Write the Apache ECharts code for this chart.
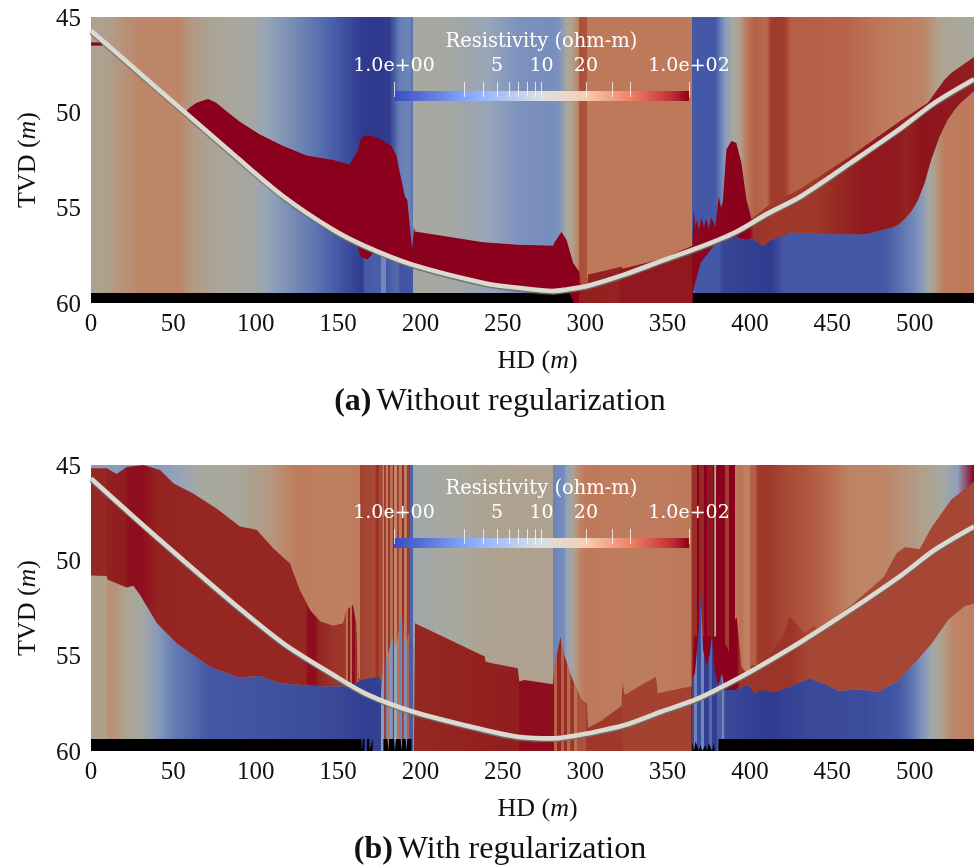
<!DOCTYPE html>
<html>
<head>
<meta charset="utf-8">
<script src="https://cdn.jsdelivr.net/npm/echarts@6/dist/echarts.min.js"></script>
<style>html,body{margin:0;padding:0;background:#fff}#c{width:974px;height:867px}</style>
</head>
<body>
<div id="c"></div>
<script>
// ---------- axis and legend values ----------
const tvdMin = 45, tvdMax = 60, hdMin = 0, hdMax = 536;
const barLabelValues = [1, 5, 10, 20, 100];
const barLabelTexts = ['1.0e+00', '5', '10', '20', '1.0e+02'];
const barTickValues = [1, 3, 4, 5, 6, 7, 8, 9, 10, 20, 30, 40, 100];

// ---------- panel (a) without regularization ----------
const aTrackHd  = [0, 25.7, 57, 86.4, 116.7, 147, 167, 195.6, 239, 259, 280.5, 287.6, 301.8, 324, 346, 368.6, 390.8, 411, 431, 461, 492, 512, 536];
const aTrackTvd = [45.72, 47.65, 50, 52.2, 54.4, 56.16, 57.04, 58, 58.96, 59.2, 59.37, 59.3, 59.09, 58.5, 57.8, 57.1, 56.3, 55.3, 54.4, 52.65, 50.8, 49.5, 48.26];

const aBackHd  = [0, 9.5, 20, 30, 54, 61, 74, 98, 107, 137, 147, 165, 181, 187, 193, 195.5, 195.6, 220, 242, 260, 280, 284, 289, 292, 296, 296.1, 301, 301.1, 364.5, 364.6, 365, 365.1, 379, 382, 385, 390, 394, 397, 403, 410, 413, 421, 425, 457, 480, 505, 514, 520, 536];
const aBackRho = [8, 9, 11, 13.5, 13.5, 10, 7, 5.5, 4, 2, 1.6, 1.05, 1.05, 2.2, 2.5, 2, 6, 5.5, 4, 3, 2.8, 3, 6, 9, 16, 35, 35, 20, 20, 6, 6, 1.5, 1.5, 2.2, 3.5, 6, 8, 16, 30, 25, 45, 45, 30, 28, 20, 14, 9, 7, 6];

const aSliverHd   = [0, 7];
const aSliverTop  = [46.33, 46.33];
const aSliverBot  = [46.5, 46.5];

const aMidTopHd  = [57, 60, 64, 71, 76, 83, 90.4, 102.5, 116.7, 130.9, 147, 157, 162, 164, 167, 173, 182.5, 185.5, 187.5, 190.5, 192, 195, 196, 196.6, 217.8, 238, 259, 280.5, 281.5, 285.6, 288.7, 292.7, 296.7, 297.5, 301, 301.8, 322, 322.5, 346, 365, 365.8, 367, 368, 369, 370.5, 372, 373.5, 375, 376.5, 379, 381, 382.5, 383.5, 385.7, 388.7, 391.7, 394.8, 397.9, 401, 411, 431, 461, 492, 508, 513, 518, 522, 536];
const aMidTopTvd = [50, 49.75, 49.5, 49.3, 49.5, 50, 50.5, 51.16, 51.77, 52.26, 52.5, 52.74, 52, 51.33, 51.2, 51.3, 51.77, 52.3, 53.18, 54.4, 54.6, 57.2, 56, 56.25, 56.54, 56.82, 56.95, 57, 56.8, 56.28, 56.7, 57.9, 58.4, 59.3, 59.3, 58.5, 58.1, 58.2, 57.7, 57, 55.1, 56, 55.6, 56.2, 55.5, 56, 55.6, 56.1, 55.5, 56, 54.4, 55, 54.7, 51.95, 51.5, 51.6, 52.65, 54.6, 55.6, 54.9, 54, 52.3, 50.4, 49.5, 48.9, 48.3, 47.95, 47.1];
const aMidBotHd  = [57, 86.4, 116.7, 147, 160, 162, 164, 168, 171, 175, 195.6, 242, 259, 280.5, 290, 293, 365, 365.5, 368, 370, 378, 390, 397, 401, 408, 413, 425, 449.5, 470, 486, 490, 494, 498, 502, 506, 510, 515, 520, 524, 528, 532, 536];
const aMidBotTvd = [50, 52.2, 54.4, 56.16, 56.8, 57.1, 57.6, 57.7, 57.4, 57.3, 58, 59.15, 59.2, 59.37, 59.4, 60, 60, 59.4, 58.55, 57.9, 57, 56.5, 56.7, 56.6, 57, 56.7, 56.3, 56.4, 56.4, 56.05, 55.9, 55.6, 55.2, 54.6, 53.7, 52.5, 51.3, 50.4, 49.9, 49.5, 49.2, 48.9];
const aMidHd  = [0, 296, 296.1, 320, 322, 365, 365.1, 400, 402, 413, 440, 455, 470, 487, 495, 505, 536];
const aMidRho = [100, 100, 70, 65, 75, 75, 92, 100, 50, 48, 48, 60, 75, 75, 65, 80, 70];

const aLowLeftHd  = [165, 166, 172, 176, 176.1, 179, 179.1, 186, 188, 195.5];
const aLowLeftRho = [1.05, 1.5, 1.6, 1.6, 2.6, 2.6, 1.5, 1.8, 1.4, 1.5];
const aLowRightHd  = [365, 367, 381, 383.7, 413, 421, 482, 492, 502, 508, 511, 518, 536];
const aLowRightRho = [2.5, 1.5, 1.5, 1.2, 1.05, 1.5, 1.5, 2, 3, 5, 8, 18, 20];

const aBlackHd = [[0, 293.5], [365, 536]];
const aBlackTop = 59.47;

// ---------- panel (b) with regularization ----------
const bTrackHd  = [0, 25.7, 56, 86.4, 116.7, 147, 167, 195.6, 239, 259, 280.5, 287.6, 301.8, 324, 346, 368.6, 390.8, 411, 431, 461, 492, 512, 536];
const bTrackTvd = [45.7, 47.7, 50, 52.25, 54.35, 56, 57, 57.94, 58.9, 59.25, 59.34, 59.28, 59.07, 58.64, 57.94, 57.24, 56.28, 55.3, 54.27, 52.6, 50.77, 49.46, 48.23];

const bBackHd = [
  0, 20, 42, 55, 66, 90, 108, 118, 125, 156, 160, 163,
  163.1, 172, 174, 175, 176.9,
  177, 178, 178.1, 179.2, 179.3, 180, 180.1, 181.5, 181.6, 183, 183.1, 184, 184.1, 185.5, 185.6, 187, 187.1, 188.5, 188.6, 190, 190.1, 191.5, 191.6, 193.4,
  193.5, 195.6,
  195.7, 220, 242, 260, 280.5,
  280.6, 287, 289, 293, 297, 301, 322, 342, 364,
  365, 368, 368.1, 369, 369.1, 372, 372.1, 374, 374.1, 377.6, 377.7, 378.4, 378.5, 379.6, 379.7, 385, 385.1, 387, 387.1, 391,
  391.1, 396, 396.1, 400, 400.1, 403, 405, 405.1, 411, 423, 433, 447, 461, 480, 505, 516, 526, 536];
const bBackRho = [
  3.5, 3.5, 3.5, 4, 6, 6.5, 10, 13, 18, 16, 18, 18,
  42, 38, 60, 38, 42,
  15, 15, 45, 45, 16, 16, 50, 50, 22, 22, 60, 60, 13, 13, 42, 42, 20, 20, 55, 55, 16, 16, 45, 45,
  1.7, 1.7,
  5, 6, 8, 8.5, 8.5,
  2.4, 2.8, 4, 8, 14, 20, 18, 18, 20,
  55, 55, 100, 100, 60, 60, 100, 100, 75, 75, 100, 100, 6, 6, 100, 100, 45, 45, 100, 100,
  20, 22, 16, 16, 30, 30, 48, 48, 48, 38, 34, 26, 14, 14, 9, 6, 3.7];

const bMidTopHd  = [0, 9.5, 15.6, 21.6, 31.8, 41.9, 50, 62, 76, 90.4, 100.5, 110.6, 120.8, 126.8, 133, 139, 147, 153, 155, 159, 161, 162.5, 164, 175, 175.5, 196, 196.6, 218, 239, 239.5, 242, 259, 260, 263, 280.5, 281.5, 285, 287.6, 291.7, 297.8, 301, 301.8, 310, 322, 322.6, 324, 334, 343, 344, 364.4, 365, 366, 380, 386, 388, 391, 392, 394.8, 399, 401, 410, 415, 420, 424, 428, 433, 439, 441, 450, 461, 481, 489, 494, 503, 510, 522, 536];
const bMidTopTvd = [45.17, 45.17, 45.47, 45.1, 45, 45.26, 45.96, 46.5, 47.27, 48.23, 48.4, 49.37, 50.16, 51.56, 52.6, 53.2, 53.43, 53.3, 52.6, 52.34, 53.3, 56.2, 56.27, 56.1, 60, 60, 53.3, 54.18, 55.05, 55.3, 55.37, 55.66, 56.36, 56.27, 56.5, 55.4, 54.04, 55.05, 56.1, 57.3, 57.5, 58.8, 58.4, 57.64, 56.45, 57.06, 56.54, 56.1, 56.97, 56.6, 56.6, 54, 54, 54.5, 55, 53.1, 53, 55.6, 56, 55.5, 55.5, 54.5, 54, 52.95, 53.3, 53.83, 53.4, 53.65, 53.1, 52.4, 50.9, 49.63, 49.32, 49.4, 48.3, 46.83, 45.87];
const bMidBotHd  = [0, 9.5, 10, 21.6, 25.7, 29.7, 40, 52, 72, 89.4, 102.5, 114.7, 139, 157, 164, 175, 175.5, 365, 365.2, 383, 391, 399, 403, 407, 415, 425, 436, 447, 453.5, 468, 478, 490, 502, 510.5, 520.5, 530.5, 536];
const bMidBotTvd = [50.8, 50.82, 51, 51.42, 51.33, 51.8, 53.3, 54.35, 55.58, 56.14, 56.07, 56.45, 56.6, 56.6, 56.27, 56.1, 60, 60, 57, 56.8, 56.8, 56.5, 57, 56.8, 56.9, 56.6, 56.2, 56.54, 56.84, 56.77, 56.9, 56.3, 55.2, 54.35, 53.1, 52.4, 52.25];
const bMidHd  = [0, 9, 10, 20, 24, 31, 40, 72, 90, 130, 132, 136, 138, 147, 153, 155, 155.1, 156, 156.1, 157, 157.1, 158.5, 158.6, 160, 160.1, 161.5, 161.6, 163, 196, 239, 260, 260.1, 280, 281, 281.1, 283, 283.1, 285, 285.1, 287, 287.1, 289, 289.1, 291, 291.1, 293, 293.1, 295, 295.1, 300, 301, 322, 323, 364, 365, 392, 394, 413, 425, 435, 536];
const bMidRho = [60, 60, 68, 70, 85, 85, 65, 60, 62, 62, 85, 85, 65, 50, 50, 40, 22, 22, 70, 70, 25, 25, 85, 85, 55, 55, 22, 60, 60, 68, 70, 85, 85, 90, 28, 28, 60, 60, 30, 30, 55, 55, 25, 25, 50, 50, 22, 22, 35, 35, 48, 48, 42, 42, 100, 100, 50, 50, 50, 40, 40];

const bLowTopHd  = [0, 9.5, 10, 21.6, 25.7, 29.7, 40, 52, 72, 89.4, 102.5, 114.7, 139, 157, 164, 175, 176];
const bLowTopTvd = [50.8, 50.82, 51, 51.42, 51.33, 51.8, 53.3, 54.35, 55.58, 56.14, 56.07, 56.45, 56.6, 56.6, 56.27, 56.1, 56.4];
const bLowHd  = [0, 9, 10, 15, 20, 30, 40, 50, 72, 107, 147, 164, 176];
const bLowRho = [9, 9, 11, 11, 8, 6, 3.5, 2.2, 1.5, 1.4, 1.25, 1.1, 1.1];

const bNoiseHd  = [176, 176.1, 178, 178.1, 179, 179.1, 180.5, 180.6, 181.5, 181.6, 183, 183.1, 184, 184.1, 185.5, 185.6, 187, 187.1, 188.5, 188.6, 190, 190.1, 191.5, 191.6, 193, 193.1, 195.6];
const bNoiseRho = [1.1, 3.5, 3.5, 45, 45, 2.5, 2.5, 18, 18, 3.2, 3.2, 50, 50, 4, 4, 22, 22, 2.5, 2.5, 40, 40, 3, 3, 28, 28, 1.6, 1.6];
const bNoiseTopHd  = [176, 177.4, 180, 183, 185, 188.5, 191, 193, 195.6];
const bNoiseTopTvd = [57, 55.5, 55, 54, 54.6, 52.8, 54.5, 53.8, 54.5];

const bRightLowTopHd  = [365, 366.6, 368.6, 370, 371.6, 373.6, 375.5, 377, 378.6, 380.7, 383, 383.8, 385];
const bRightLowTopTvd = [56.3, 55.9, 54, 51.7, 54.7, 55.5, 55, 53.9, 55.8, 56.6, 55.9, 56.3, 57];
const bRightLowHd  = [365, 366, 366.1, 368, 368.1, 370, 370.1, 372, 372.1, 375, 375.1, 377, 377.1, 380, 380.1, 383, 383.1, 385];
const bRightLowRho = [1.3, 1.3, 2.4, 2.4, 1.3, 1.3, 2.6, 2.6, 1.1, 1.1, 1.8, 1.8, 1.1, 1.1, 1.6, 1.6, 3.4, 1.3];
const bLowRightTopHd  = [383, 391, 399, 403, 407, 415, 425, 436, 447, 453.5, 468, 478, 490, 502, 510.5, 520.5, 530.5, 536];
const bLowRightTopTvd = [56.8, 56.8, 56.5, 57, 56.8, 56.9, 56.6, 56.2, 56.54, 56.84, 56.77, 56.9, 56.3, 55.2, 54.35, 53.1, 52.4, 52.25];
const bLowRightHd  = [383, 413, 436, 470, 490, 498, 504, 510, 516, 524, 536];
const bLowRightRho = [1.25, 1.05, 1.25, 1.3, 1.5, 2, 3, 5, 8, 14, 16];

const bBlackLeftHd  = [0, 164, 164.5, 165, 166, 166.1, 167.5, 167.6, 169, 169.1, 171];
const bBlackLeftTvd = [59.37, 59.37, 60, 59.37, 59.37, 60, 60, 59.37, 59.37, 60, 59.37];
const bBlackMidHd  = [177.5, 180, 180.5, 181, 184, 184.5, 185, 188, 188.5, 189, 191, 191.5, 192, 194.6];
const bBlackMidTvd = [59.37, 59.37, 60, 59.37, 59.37, 60, 59.37, 59.37, 60, 59.37, 59.37, 60, 59.37, 59.37];
const bBlackRightHd  = [365, 366, 367, 369, 370, 371, 373, 374, 375, 377, 378, 379, 380.8, 380.9, 536];
const bBlackRightTvd = [59.5, 60, 59.5, 60, 59.7, 60, 59.7, 60, 59.6, 60, 59.6, 60, 60, 59.37, 59.37];

// ---------- colour helpers ----------
const rhoStops = [[1, [45, 55, 140]], [1.5, [68, 88, 165]], [2.2, [100, 125, 180]], [3, [125, 145, 190]], [4, [150, 165, 185]], [6, [168, 168, 158]], [9, [175, 160, 140]], [13, [190, 135, 105]], [20, [190, 120, 90]], [30, [180, 95, 70]], [45, [160, 60, 45]], [70, [145, 30, 30]], [100, [139, 0, 28]]];
function rhoColor(r) {
  for (let i = 1; i < rhoStops.length; i++) {
    if (r <= rhoStops[i][0]) {
      const a = rhoStops[i - 1], b = rhoStops[i];
      const t = Math.max(0, (Math.log(r) - Math.log(a[0])) / (Math.log(b[0]) - Math.log(a[0])));
      return 'rgb(' + a[1].map((v, k) => Math.round(v + (b[1][k] - v) * t)).join(',') + ')';
    }
  }
  return 'rgb(139,0,28)';
}

// one filled region bounded by a top and a bottom curve; fill varies along HD
function region(grid, topHd, topTvd, botHd, botTvd, stopHd, stopRho, flat) {
  const pts = [];
  topHd.forEach((h, i) => pts.push([h, topTvd[i]]));
  for (let i = botHd.length - 1; i >= 0; i--) pts.push([botHd[i], botTvd[i]]);
  return {
    type: 'custom', xAxisIndex: grid, yAxisIndex: grid, silent: true, clip: true, z: 2,
    coordinateSystem: 'cartesian2d', animation: false, data: pts,
    encode: { x: 0, y: 1 },
    renderItem(params, api) {
      if (params.dataIndex !== 0) return null;
      const points = pts.map(p => api.coord(p));
      let fill = flat;
      if (!flat) {
        const h0 = stopHd[0], h1 = stopHd[stopHd.length - 1];
        const x0 = api.coord([h0, tvdMin])[0], x1 = api.coord([h1, tvdMin])[0];
        fill = new echarts.graphic.LinearGradient(x0, 0, x1, 0,
          stopHd.map((h, i) => ({ offset: (h - h0) / (h1 - h0), color: rhoColor(stopRho[i]) })), true);
      }
      return { type: 'polygon', shape: { points }, style: { fill } };
    }
  };
}
const span = (a, b) => [a, b];
const flatAt = (v) => [v, v];

function track(grid, hd, tvd) {
  return {
    type: 'line', xAxisIndex: grid, yAxisIndex: grid, z: 3, silent: true, animation: false,
    showSymbol: false, smooth: 0.3, clip: true,
    data: hd.map((h, i) => [h, tvd[i]]),
    lineStyle: { color: '#dcd9d1', width: 4.6, cap: 'butt', shadowColor: '#6f6f6a', shadowBlur: 1, shadowOffsetY: 1.4 }
  };
}

function colorBar(grid) {
  return {
    type: 'custom', xAxisIndex: grid, yAxisIndex: grid, silent: true, z: 4, animation: false,
    coordinateSystem: 'cartesian2d', data: [[1, 0], [100, 1]], encode: { x: 0, y: 1 },
    renderItem(params, api) {
      if (params.dataIndex !== 0) return null;
      const a = api.coord([1, 0]), b = api.coord([100, 1]);
      return {
        type: 'rect', shape: { x: a[0], y: b[1], width: b[0] - a[0], height: a[1] - b[1] },
        style: {
          fill: new echarts.graphic.LinearGradient(0, 0, 1, 0, [
            { offset: 0, color: '#3a4cc0' }, { offset: .24, color: '#82a5fa' }, { offset: .30, color: '#96b4ff' },
            { offset: .5, color: '#dce1e1' }, { offset: .65, color: '#f5cdb4' }, { offset: .8, color: '#f08264' },
            { offset: .95, color: '#be2832' }, { offset: 1, color: '#8b001c' }])
        }
      };
    }
  };
}

const axisFont = { fontFamily: 'Liberation Serif', fontSize: 25, color: '#111' };
const rich = {
  a: { fontFamily: 'Liberation Serif', fontSize: 26, color: '#111' },
  i: { fontFamily: 'Liberation Serif', fontSize: 26, color: '#111', fontStyle: 'italic' }
};
function plotX(grid) {
  return { gridIndex: grid, type: 'value', min: hdMin, max: hdMax, interval: 50,
    axisLine: { show: false }, axisTick: { show: false }, splitLine: { show: false },
    axisLabel: Object.assign({ margin: 9, showMaxLabel: false }, axisFont),
    name: '{a|HD (}{i|m}{a|)}', nameLocation: 'middle', nameGap: 45,
    nameTextStyle: { rich, padding: [0, 0, 0, 10] } };
}
function plotY(grid) {
  return { gridIndex: grid, type: 'value', min: tvdMin, max: tvdMax, interval: 5, inverse: true,
    axisLine: { show: false }, axisTick: { show: false }, splitLine: { show: false },
    axisLabel: Object.assign({ margin: 10, formatter: v => '{v|' + v + '}',
      rich: { v: Object.assign({ padding: [4, 0, 0, 0] }, axisFont) } }, axisFont),
    name: '{a|TVD (}{i|m}{a|)}', nameLocation: 'middle', nameGap: 50,
    nameTextStyle: { rich } };
}
function barX(grid) {
  const font = { fontFamily: 'DejaVu Serif', fontSize: 19, color: '#fff' };
  return { gridIndex: grid, type: 'log', logBase: 10, min: 1, max: 100, position: 'top', offset: -4, z: 6,
    axisLine: { show: false }, splitLine: { show: false }, minorTick: { show: false },
    axisTick: { show: true, length: 15, customValues: barTickValues, lineStyle: { color: 'rgba(255,255,255,.75)', width: 1 } },
    axisLabel: Object.assign({ margin: 19, customValues: barLabelValues, hideOverlap: false, showMinLabel: true, showMaxLabel: true,
      formatter: v => barLabelTexts[barLabelValues.findIndex(x => Math.abs(x - v) < 1e-6)] }, font),
    name: 'Resistivity (ohm-m)', nameLocation: 'middle', nameGap: 43,
    nameTextStyle: { fontFamily: 'DejaVu Serif', fontSize: 19.5, color: '#fff' } };
}
const barY = grid => ({ gridIndex: grid, type: 'value', min: 0, max: 1, show: false });

const capRich = {
  b: { fontFamily: 'Liberation Serif', fontWeight: 'bold', fontSize: 32, color: '#111' },
  r: { fontFamily: 'Liberation Serif', fontWeight: 'normal', fontSize: 32, color: '#111' }
};

const option = {
  animation: false,
  backgroundColor: '#fff',
  title: [
    { text: '{b|(a)} {r|Without regularization}', left: 495, top: 381, textAlign: 'center',
      textStyle: { fontWeight: 'normal', rich: capRich } },
    { text: '{b|(b)} {r|With regularization}', left: 495, top: 829, textAlign: 'center',
      textStyle: { fontWeight: 'normal', rich: capRich } }
  ],
  grid: [
    { left: 91, top: 17, width: 883, height: 286 },
    { left: 91, top: 465, width: 883, height: 286 },
    { left: 394, top: 91, width: 295, height: 10 },
    { left: 394, top: 538, width: 295, height: 10 }
  ],
  xAxis: [plotX(0), plotX(1), barX(2), barX(3)],
  yAxis: [plotY(0), plotY(1), barY(2), barY(3)],
  series: [
    // panel (a)
    region(0, span(hdMin, hdMax), flatAt(tvdMin), span(hdMin, hdMax), flatAt(tvdMax), aBackHd, aBackRho),
    region(0, span(165, 195.5), flatAt(57), span(165, 195.5), flatAt(tvdMax), aLowLeftHd, aLowLeftRho),
    region(0, aMidBotHd.slice(16), aMidBotTvd.slice(16), span(365, hdMax), flatAt(tvdMax), aLowRightHd, aLowRightRho),
    region(0, aBlackHd[0], flatAt(aBlackTop), aBlackHd[0], flatAt(tvdMax), null, null, '#000'),
    region(0, aBlackHd[1], flatAt(aBlackTop), aBlackHd[1], flatAt(tvdMax), null, null, '#000'),
    region(0, aSliverHd, aSliverTop, aSliverHd, aSliverBot, null, null, '#8b001c'),
    region(0, aMidTopHd, aMidTopTvd, aMidBotHd, aMidBotTvd, aMidHd, aMidRho),
    track(0, aTrackHd, aTrackTvd),
    // panel (b)
    region(1, span(hdMin, hdMax), flatAt(tvdMin), span(hdMin, hdMax), flatAt(tvdMax), bBackHd, bBackRho),
    region(1, bLowTopHd, bLowTopTvd, span(0, 176), flatAt(tvdMax), bLowHd, bLowRho),
    region(1, bLowRightTopHd, bLowRightTopTvd, span(383, hdMax), flatAt(tvdMax), bLowRightHd, bLowRightRho),
    region(1, bMidTopHd, bMidTopTvd, bMidBotHd, bMidBotTvd, bMidHd, bMidRho),
    region(1, bNoiseTopHd, bNoiseTopTvd, span(176, 195.6), flatAt(tvdMax), bNoiseHd, bNoiseRho),
    region(1, bRightLowTopHd, bRightLowTopTvd, span(365, 385), flatAt(tvdMax), bRightLowHd, bRightLowRho),
    region(1, bBlackLeftHd, bBlackLeftTvd, span(0, 171), flatAt(tvdMax), null, null, '#000'),
    region(1, bBlackMidHd, bBlackMidTvd, span(177.5, 194.6), flatAt(tvdMax), null, null, '#000'),
    region(1, bBlackRightHd, bBlackRightTvd, span(365, hdMax), flatAt(tvdMax), null, null, '#000'),
    track(1, bTrackHd, bTrackTvd),
    // colour bars
    colorBar(2),
    colorBar(3)
  ]
};
const chart = echarts.init(document.getElementById('c'), null, { renderer: 'canvas' });
chart.setOption(option);
</script>
</body>
</html>
